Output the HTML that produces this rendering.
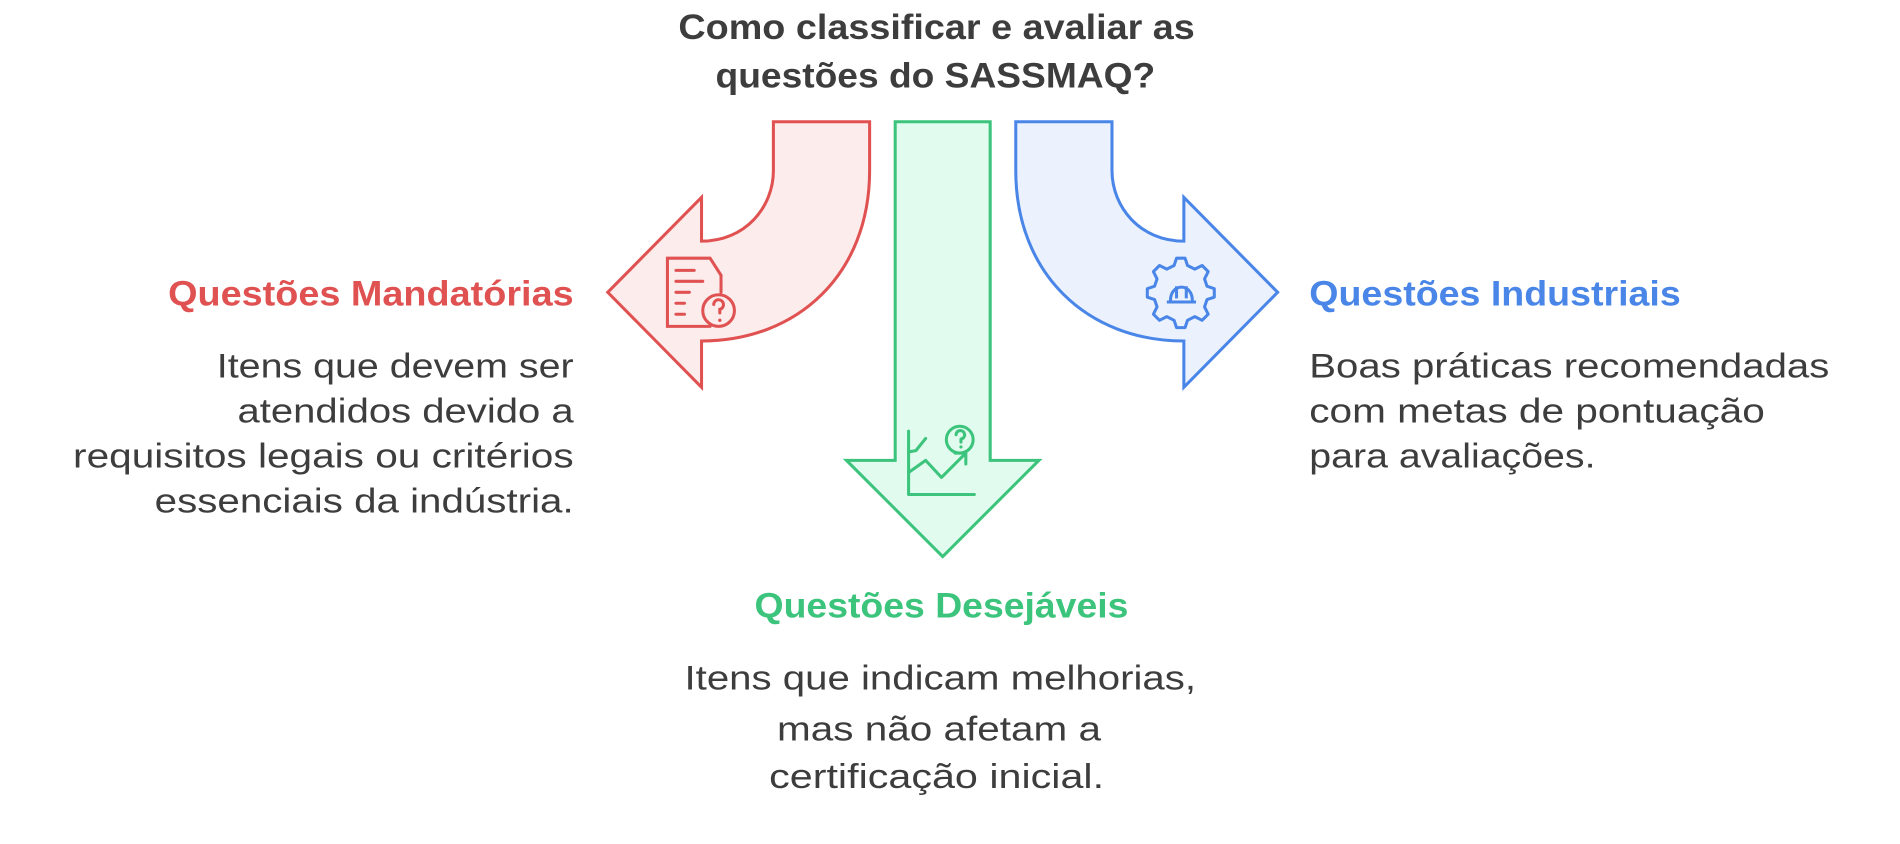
<!DOCTYPE html>
<html><head><meta charset="utf-8"><style>
html,body{margin:0;padding:0;background:#fff;width:1900px;height:844px;overflow:hidden}
svg{display:block}
text{font-family:"Liberation Sans",sans-serif}
</style></head><body>
<svg width="1900" height="844" viewBox="0 0 1560 693" preserveAspectRatio="none" xmlns="http://www.w3.org/2000/svg">
<g font-weight="bold" font-size="29" fill="#3d3d3d" text-anchor="middle">
<text x="769" y="32" textLength="424" lengthAdjust="spacingAndGlyphs">Como classificar e avaliar as</text>
<text x="768" y="72" textLength="361" lengthAdjust="spacingAndGlyphs">questões do SASSMAQ?</text>
</g>
<path d="M635,100 L714,100 L714,140 C714,225 655,280 576,280 L576,318 L499,240 L576,162 L576,198 C612,198 635,170 635,140 Z" fill="#fdecec" stroke="#e05252" stroke-width="2.5" stroke-linejoin="miter"/>
<path d="M913,100 L834,100 L834,140 C834,225 893,280 972,280 L972,318 L1049,240 L972,162 L972,198 C936,198 913,170 913,140 Z" fill="#ebf2fe" stroke="#4a86e8" stroke-width="2.5"/>
<path d="M735,100 L813,100 L813,378 L853,378 L774,457 L695,378 L735,378 Z" fill="#e1fbee" stroke="#3cc47c" stroke-width="2.5"/>
<g fill="none" stroke="#e05252" stroke-width="2.5" stroke-linecap="round">
<path d="M583,268 L548,268 L548,212 L583,212 L592,226 L592,240"/>
<line x1="555" y1="222" x2="570" y2="222"/><line x1="555" y1="231" x2="577" y2="231"/>
<line x1="555" y1="240" x2="566" y2="240"/><line x1="555" y1="249" x2="562" y2="249"/><line x1="555" y1="258" x2="562" y2="258"/>
<circle cx="590" cy="255" r="13"/>
<path d="M586,250 a4,4 0 1 1 5,4 l0,3"/>
</g>
<circle cx="591" cy="263" r="1.4" fill="#e05252"/>
<g fill="none" stroke="#4a86e8" stroke-width="2.5" stroke-linejoin="round">
<path d="M966,212 l7,0 l2,6 l6,3 l6,-3 l5,5 l-3,6 l2,6 l6,2 l0,7 l-6,2 l-2,6 l3,6 l-5,5 l-6,-3 l-6,3 l-2,6 l-7,0 l-2,-6 l-6,-3 l-6,3 l-5,-5 l3,-6 l-2,-6 l-6,-2 l0,-7 l6,-2 l2,-6 l-3,-6 l5,-5 l6,3 l6,-3 Z"/>
<path d="M958,248 L982,248 M961,247 C961,232 979,232 979,247 M966,235 L966,245 M974,235 L974,245"/>
</g>
<g fill="none" stroke="#3cc47c" stroke-width="2.5" stroke-linecap="round" stroke-linejoin="round">
<path d="M746,354 L746,406 L800,406"/>
<path d="M746,388 L760,378 L773,392 L793,372 M784,372 L793,372 L793,381"/>
<path d="M746,371 L752,370 L760,360"/>
<circle cx="788" cy="361" r="11"/>
<path d="M785,357 a3.5,3.5 0 1 1 4,3.5 l0,2.5"/>
</g>
<circle cx="789" cy="367" r="1.3" fill="#3cc47c"/>
<text x="471" y="251" font-weight="bold" font-size="29" fill="#e05252" text-anchor="end" textLength="333" lengthAdjust="spacingAndGlyphs">Questões Mandatórias</text>
<g font-size="28" fill="#3d3d3d" text-anchor="end">
<text x="471" y="310" textLength="293" lengthAdjust="spacingAndGlyphs">Itens que devem ser</text>
<text x="471" y="347" textLength="276" lengthAdjust="spacingAndGlyphs">atendidos devido a</text>
<text x="471" y="384" textLength="411" lengthAdjust="spacingAndGlyphs">requisitos legais ou critérios</text>
<text x="471" y="421" textLength="344" lengthAdjust="spacingAndGlyphs">essenciais da indústria.</text>
</g>
<text x="1075" y="251" font-weight="bold" font-size="29" fill="#4a86e8" textLength="305" lengthAdjust="spacingAndGlyphs">Questões Industriais</text>
<g font-size="28" fill="#3d3d3d">
<text x="1075" y="310" textLength="427" lengthAdjust="spacingAndGlyphs">Boas práticas recomendadas</text>
<text x="1075" y="347" textLength="374" lengthAdjust="spacingAndGlyphs">com metas de pontuação</text>
<text x="1075" y="384" textLength="235" lengthAdjust="spacingAndGlyphs">para avaliações.</text>
</g>
<text x="773" y="507" font-weight="bold" font-size="29" fill="#3cc47c" text-anchor="middle" textLength="307" lengthAdjust="spacingAndGlyphs">Questões Desejáveis</text>
<g font-size="28" fill="#3d3d3d" text-anchor="middle">
<text x="772" y="566" textLength="420" lengthAdjust="spacingAndGlyphs">Itens que indicam melhorias,</text>
<text x="771" y="608" textLength="266" lengthAdjust="spacingAndGlyphs">mas não afetam a</text>
<text x="769" y="647" textLength="275" lengthAdjust="spacingAndGlyphs">certificação inicial.</text>
</g>
</svg>
</body></html>
